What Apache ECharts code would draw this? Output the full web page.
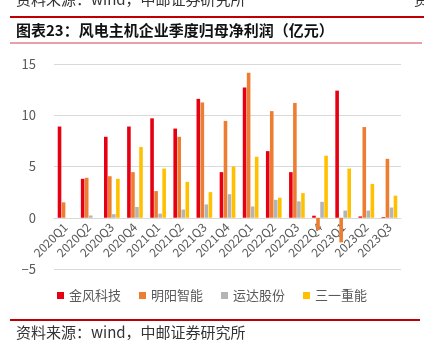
<!DOCTYPE html>
<html><head><meta charset="utf-8">
<script src="https://cdn.jsdelivr.net/npm/echarts@6/dist/echarts.min.js"></script>
<style>html,body{margin:0;padding:0;background:#fff}#c{width:424px;height:351px}</style>
</head><body><div id="c"></div>
<script>
const categories = ['2020Q1','2020Q2','2020Q3','2020Q4','2021Q1','2021Q2','2021Q3','2021Q4','2022Q1','2022Q2','2022Q3','2022Q4','2023Q1','2023Q2','2023Q3'];
const goldwind = [8.9,3.8,7.9,8.9,9.7,8.7,11.6,4.45,12.7,6.5,4.45,0.2,12.4,0.13,0.07];
const mingyang = [1.5,3.9,4.05,4.45,2.6,7.9,11.25,9.45,14.15,10.4,11.2,-1.2,-2.4,8.85,5.75];
const yunda = [0,0.22,0.35,1.05,0.4,0.8,1.3,2.3,1.1,1.75,1.6,1.55,0.7,0.7,1.0];
const sany = [0,0,3.8,6.9,4.8,3.5,2.5,5.0,5.95,1.95,2.4,6.05,4.8,3.3,2.15];
const yTicks = [-5,0,5,10,15];
const seriesNames = ['金风科技','明阳智能','运达股份','三一重能'];
const colors = ['#E60012','#ED7D31','#B4B4B4','#FFC000'];
const font = '"Noto Sans CJK SC", sans-serif';
const chart = echarts.init(document.getElementById('c'), null, {renderer:'canvas'});
const dataSets = [goldwind, mingyang, yunda, sany];
chart.setOption({
  animation:false,
  textStyle:{fontFamily:font},
  grid:{left:54,right:23,top:64,bottom:82,containLabel:false},
  legend:{bottom:44,left:'center',itemWidth:7,itemHeight:7,itemGap:18,icon:'rect',
    textStyle:{fontSize:13,color:'#595959',fontFamily:font},data:seriesNames},
  xAxis:{type:'category',data:categories,offset:-51,
    axisLine:{onZero:false,lineStyle:{color:'#d9d9d9'}},
    axisTick:{show:false},
    axisLabel:{rotate:45,fontSize:12,color:'#595959',interval:0,margin:7}},
  yAxis:{type:'value',min:yTicks[0],max:yTicks[yTicks.length-1],interval:5,
    axisLine:{show:false},axisTick:{show:false},
    splitLine:{lineStyle:{color:'#d9d9d9',width:1}},
    axisLabel:{fontSize:13,color:'#595959',margin:18,formatter:v=>v<0?'−'+Math.abs(v):String(v)}},
  series: seriesNames.map((n,i)=>({name:n,type:'bar',data:dataSets[i],barWidth:3.6,barGap:'12%',
    itemStyle:{color:colors[i]}})),
  graphic:[
    {type:'text',left:16,top:-8,style:{text:'资料来源：wind，中邮证券研究所',font:'15px '+font,fill:'#333'}},
    {type:'text',left:414,top:-8,style:{text:'资',font:'15px '+font,fill:'#333'}},
    {type:'rect',shape:{x:10,y:16,width:414,height:2},style:{fill:'#C00000'}},
    {type:'text',left:16,top:23,style:{text:'图表23：风电主机企业季度归母净利润（亿元）',font:'bold 15px '+font,fill:'#111'}},
    {type:'rect',shape:{x:10,y:42,width:412,height:2},style:{fill:'#E8A0A8'}},
    {type:'rect',shape:{x:10,y:319,width:410,height:2},style:{fill:'#C00000'}},
    {type:'text',left:16,top:325,style:{text:'资料来源：wind，中邮证券研究所',font:'15px '+font,fill:'#333'}}
  ]
});
</script></body></html>
